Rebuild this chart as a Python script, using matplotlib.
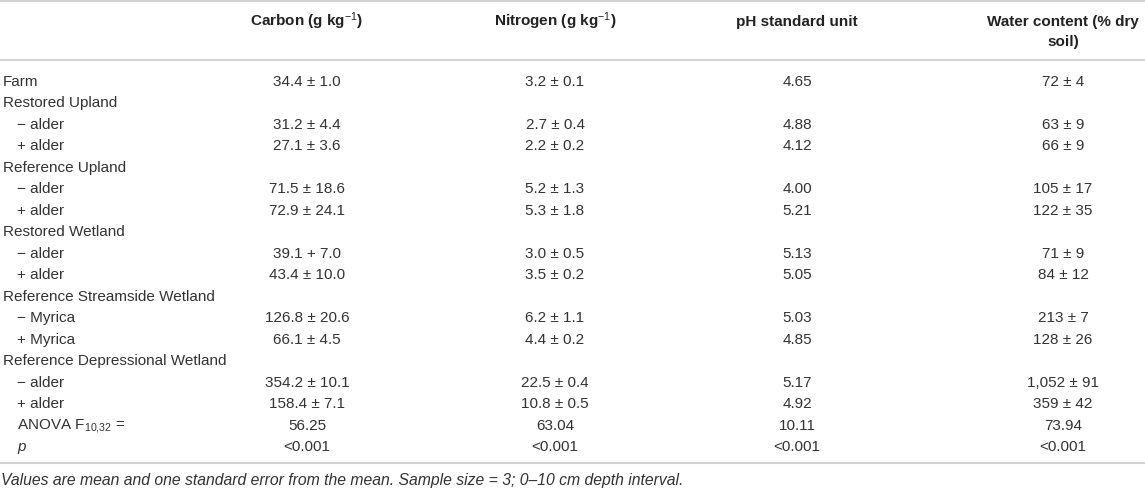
import matplotlib
matplotlib.use("Agg")
import matplotlib.pyplot as plt

plt.rcParams["font.family"] = ["Liberation Sans", "DejaVu Sans"]
plt.rcParams["mathtext.fontset"] = "custom"
plt.rcParams["mathtext.rm"] = "Liberation Sans"
plt.rcParams["mathtext.it"] = "Liberation Sans:italic"
plt.rcParams["mathtext.bf"] = "Liberation Sans:bold"

### Tablo verisi
basliklar = [r"Carbon (g kg$^{-1}$)", r"Nitrogen (g kg$^{-1}$)", "pH standard unit",
             "Water content (% dry\nsoil)"]

satirlar = ["Farm", "Restored Upland", "− alder", "+ alder", "Reference Upland", "− alder", "+ alder",
            "Restored Wetland", "− alder", "+ alder", "Reference Streamside Wetland", "− Myrica",
            "+ Myrica", "Reference Depressional Wetland", "− alder", "+ alder",
            r"ANOVA F$_{\mathrm{10{,}32}}$ =", "$p$"]

karbon = ["34.4 ± 1.0", "", "31.2 ± 4.4", "27.1 ± 3.6", "", "71.5 ± 18.6", "72.9 ± 24.1", "",
          "39.1 + 7.0", "43.4 ± 10.0", "", "126.8 ± 20.6", "66.1 ± 4.5", "", "354.2 ± 10.1",
          "158.4 ± 7.1", "56.25", "<0.001"]
azot = ["3.2 ± 0.1", "", "2.7 ± 0.4", "2.2 ± 0.2", "", "5.2 ± 1.3", "5.3 ± 1.8", "",
        "3.0 ± 0.5", "3.5 ± 0.2", "", "6.2 ± 1.1", "4.4 ± 0.2", "", "22.5 ± 0.4",
        "10.8 ± 0.5", "63.04", "<0.001"]
ph = ["4.65", "", "4.88", "4.12", "", "4.00", "5.21", "", "5.13", "5.05", "", "5.03", "4.85", "",
      "5.17", "4.92", "10.11", "<0.001"]
su = ["72 ± 4", "", "63 ± 9", "66 ± 9", "", "105 ± 17", "122 ± 35", "", "71 ± 9", "84 ± 12", "",
      "213 ± 7", "128 ± 26", "", "1,052 ± 91", "359 ± 42", "73.94", "<0.001"]

aciklama = "Values are mean and one standard error from the mean. Sample size = 3; 0–10 cm depth interval."

sutunlar = [karbon, azot, ph, su]

### Yerlesim (piksel)
W, H = 1145, 489
sutun_x = [307, 555, 797, 1063]
ilk_satir = 80.7
aralik = 21.47
taban = 5.3   # merkezden taban cizgisine
renk = "#333333"
cizgi = "#d3d3d3"

fig = plt.figure(figsize=(W / 100, H / 100), dpi=100)
ax = fig.add_axes([0, 0, 1, 1])
ax.set_xlim(0, W)
ax.set_ylim(H, 0)
ax.axis("off")

for y in [1.5, 60.5, 464]:
    ax.plot([0, W], [y, y], color=cizgi, lw=1.5, solid_capstyle="butt")

for x, b in zip(sutun_x, basliklar):
    satir = b.split("\n")
    for k, parca in enumerate(satir):
        ax.text(x, 20.7 + 20 * k + taban, parca, ha="center", va="baseline", fontsize=11,
                fontweight="bold", color="#222222")

for i, s in enumerate(satirlar):
    y = ilk_satir + i * aralik + taban
    girinti = s[0] in "−+" or s.startswith("ANOVA") or s == "$p$"
    ax.text(17 if girinti else 3, y, s, ha="left", va="baseline", fontsize=11, color=renk)
    for x, kolon in zip(sutun_x, sutunlar):
        if kolon[i]:
            ax.text(x, y, kolon[i], ha="center", va="baseline", fontsize=11, color=renk)

ax.text(1, 480 + taban, aciklama, ha="left", va="baseline", fontsize=11.3, style="italic", color=renk)

fig.savefig("out.png", dpi=100)
